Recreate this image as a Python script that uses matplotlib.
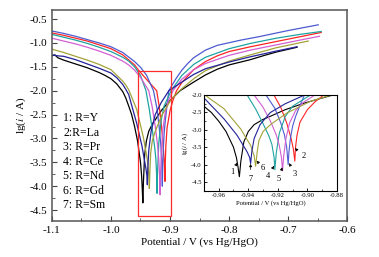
import matplotlib
matplotlib.use("Agg")
import matplotlib.pyplot as plt
from matplotlib.ticker import MultipleLocator
from matplotlib.patches import Rectangle

plt.rcParams['font.family'] = ['Liberation Serif', 'DejaVu Serif']
plt.rcParams['mathtext.fontset'] = 'stix'

# ---- data (E in V vs Hg/HgO, lg(i/A)) ----
E1 = [-1.100,-1.095,-1.090,-1.080,-1.070,-1.060,-1.050,-1.040,-1.030,-1.020,-1.010,-1.000,-0.990,-0.980,-0.975,-0.970,-0.965,-0.960,-0.955,-0.950,-0.948,-0.947,-0.946,-0.945,-0.943,-0.940,-0.936,-0.930,-0.925,-0.915,-0.902,-0.883,-0.860,-0.840,-0.820,-0.800,-0.764,-0.740,-0.720,-0.685]
L1 = [-1.27,-1.25,-1.31,-1.36,-1.40,-1.44,-1.48,-1.52,-1.57,-1.62,-1.68,-1.75,-1.86,-2.02,-2.15,-2.32,-2.50,-2.75,-3.05,-3.50,-3.80,-4.05,-4.35,-3.90,-3.35,-3.05,-2.85,-2.70,-2.61,-2.42,-2.23,-2.00,-1.82,-1.67,-1.55,-1.46,-1.35,-1.26,-1.19,-1.09]

E2 = [-1.100,-1.080,-1.060,-1.040,-1.020,-1.000,-0.980,-0.960,-0.954,-0.940,-0.9226,-0.918,-0.914,-0.911,-0.9095,-0.9085,-0.908,-0.907,-0.905,-0.900,-0.895,-0.889,-0.880,-0.860,-0.840,-0.820,-0.800,-0.764,-0.720,-0.680,-0.644]
L2 = [-0.79,-0.84,-0.90,-0.96,-1.04,-1.12,-1.25,-1.46,-1.56,-1.76,-2.00,-2.35,-2.80,-3.25,-3.55,-3.90,-3.50,-3.15,-2.78,-2.42,-2.20,-2.00,-1.83,-1.56,-1.39,-1.27,-1.18,-1.08,-0.97,-0.87,-0.78]

E3 = [-1.100,-1.080,-1.060,-1.040,-1.020,-1.000,-0.980,-0.960,-0.950,-0.940,-0.928,-0.922,-0.918,-0.9155,-0.914,-0.913,-0.9125,-0.9115,-0.910,-0.908,-0.905,-0.902,-0.890,-0.880,-0.870,-0.860,-0.840,-0.820,-0.780,-0.750,-0.700,-0.649]
L3 = [-0.75,-0.80,-0.86,-0.93,-1.00,-1.08,-1.20,-1.39,-1.51,-1.67,-2.00,-2.38,-2.80,-3.15,-3.50,-4.00,-3.65,-3.25,-2.90,-2.62,-2.30,-2.00,-1.75,-1.57,-1.43,-1.31,-1.15,-1.05,-0.94,-0.87,-0.74,-0.62]

E4 = [-1.100,-1.080,-1.060,-1.040,-1.020,-1.000,-0.980,-0.970,-0.960,-0.950,-0.9407,-0.935,-0.930,-0.926,-0.924,-0.9225,-0.922,-0.9215,-0.921,-0.919,-0.915,-0.910,-0.898,-0.880,-0.860,-0.840,-0.800,-0.764,-0.720,-0.680,-0.644]
L4 = [-0.82,-0.88,-0.94,-1.01,-1.09,-1.18,-1.30,-1.38,-1.50,-1.68,-2.00,-2.40,-2.82,-3.18,-3.42,-3.80,-4.15,-3.90,-3.65,-3.10,-2.62,-2.32,-2.00,-1.68,-1.45,-1.30,-1.12,-1.01,-0.90,-0.82,-0.76]

E5 = [-1.100,-1.080,-1.060,-1.040,-1.020,-1.000,-0.980,-0.970,-0.960,-0.950,-0.936,-0.930,-0.925,-0.921,-0.919,-0.9175,-0.9168,-0.916,-0.9145,-0.912,-0.908,-0.903,-0.895,-0.880,-0.860,-0.840,-0.800,-0.764,-0.720,-0.680,-0.647]
L5 = [-0.90,-0.96,-1.02,-1.09,-1.17,-1.26,-1.38,-1.46,-1.57,-1.72,-2.00,-2.35,-2.75,-3.15,-3.45,-3.80,-4.18,-3.75,-3.25,-2.80,-2.45,-2.22,-2.00,-1.76,-1.56,-1.43,-1.26,-1.15,-1.04,-0.94,-0.86]

E6 = [-1.100,-1.080,-1.060,-1.040,-1.020,-1.000,-0.990,-0.980,-0.975,-0.970,-0.9565,-0.9452,-0.9384,-0.936,-0.935,-0.934,-0.9328,-0.930,-0.925,-0.914,-0.898,-0.884,-0.860,-0.840,-0.800,-0.764,-0.720,-0.666]
L6 = [-1.13,-1.20,-1.28,-1.36,-1.45,-1.56,-1.68,-1.80,-1.88,-1.98,-2.39,-2.97,-3.45,-3.75,-4.05,-3.65,-3.31,-3.05,-2.85,-2.52,-2.18,-2.00,-1.75,-1.58,-1.38,-1.25,-1.10,-0.96]

E7 = [-1.100,-1.090,-1.080,-1.060,-1.040,-1.020,-1.000,-0.990,-0.980,-0.975,-0.970,-0.9565,-0.9475,-0.9407,-0.939,-0.9384,-0.9375,-0.936,-0.932,-0.925,-0.915,-0.902,-0.880,-0.860,-0.840,-0.800,-0.764,-0.720,-0.685]
L7 = [-1.25,-1.27,-1.28,-1.35,-1.44,-1.53,-1.63,-1.73,-1.87,-1.97,-2.08,-2.68,-3.16,-3.64,-3.80,-3.97,-3.60,-3.25,-2.85,-2.50,-2.25,-2.00,-1.82,-1.66,-1.54,-1.40,-1.29,-1.17,-1.08]

labels = ["1: R=Y", "2:R=La", "3: R=Pr", "4: R=Ce", "5: R=Nd", "6: R=Gd", "7: R=Sm"]
colors = ["#000000", "#ff2424", "#4d5bd0", "#1fa3a0", "#d35fd3", "#a3a33a", "#23239a"]
curves = [(E1, L1), (E2, L2), (E3, L3), (E4, L4), (E5, L5), (E6, L6), (E7, L7)]

# inset annotations: (label, text xy, arrow tip xy)
ann = [("1", (-0.9508, -4.20), (-0.9475, -3.95)),
       ("7", (-0.9384, -4.42), (-0.9384, -3.98)),
       ("6", (-0.9300, -4.10), (-0.9343, -3.89)),
       ("4", (-0.9266, -4.33), (-0.9226, -4.04)),
       ("5", (-0.9193, -4.42), (-0.9170, -4.08)),
       ("3", (-0.9084, -4.28), (-0.9123, -3.96)),
       ("2", (-0.9023, -3.75), (-0.9084, -3.53))]

zoom_box = (-0.954, -4.62, -0.898, -1.59)

fig = plt.figure(figsize=(3.79, 2.57), dpi=100)
ax = fig.add_axes([0.137, 0.140, 0.779, 0.821])
for (E, L), c in zip(curves, colors):
    ax.plot(E, L, color=c, lw=0.9)
ax.set_xlim(-1.1, -0.6)
ax.set_ylim(-4.73, -0.31)
ax.xaxis.set_major_locator(MultipleLocator(0.1))
ax.xaxis.set_minor_locator(MultipleLocator(0.05))
ax.yaxis.set_major_locator(MultipleLocator(0.5))
ax.yaxis.set_minor_locator(MultipleLocator(0.25))
ax.tick_params(which='both', direction='in', labelsize=8, color='#444444')
ax.tick_params(which='major', length=3.5, width=0.8)
ax.tick_params(which='minor', length=2, width=0.6)
ax.xaxis.set_major_formatter(matplotlib.ticker.FuncFormatter(lambda v, p: f"{v:.1f}"))
ax.yaxis.set_major_formatter(matplotlib.ticker.FuncFormatter(lambda v, p: f"{v:.1f}"))
for s in ax.spines.values():
    s.set_color('#555555'); s.set_linewidth(1.1)
ax.set_xlabel("Potential / V (vs Hg/HgO)", fontsize=8, labelpad=2)
ax.set_ylabel(r"lg($\mathit{i}$ / A)", fontsize=8, labelpad=1)
ax.add_patch(Rectangle((zoom_box[0], zoom_box[1]), zoom_box[2]-zoom_box[0],
                       zoom_box[3]-zoom_box[1], fill=False, ec='#ff2a2a', lw=0.9, zorder=5))
ys = [118, 133, 147, 162, 176, 191, 205]
for lab, yp in zip(labels, ys):
    ax.text(63/379, 1 - yp/257, lab, transform=fig.transFigure, fontsize=8.5,
            va='center', ha='left')

ins = fig.add_axes([0.538, 0.257, 0.351, 0.373])
for (E, L), c in zip(curves, colors):
    ins.plot(E, L, color=c, lw=0.8)
ins.set_xlim(-0.97, -0.88)
ins.set_ylim(-4.76, -2.0)
ins.xaxis.set_major_locator(MultipleLocator(0.02))
ins.xaxis.set_minor_locator(MultipleLocator(0.01))
ins.yaxis.set_major_locator(MultipleLocator(0.5))
ins.yaxis.set_minor_locator(MultipleLocator(0.25))
ins.tick_params(which='both', direction='in', labelsize=4.8, pad=1.5)
ins.tick_params(which='major', length=2.2, width=0.6)
ins.tick_params(which='minor', length=1.2, width=0.5)
ins.xaxis.set_major_formatter(matplotlib.ticker.FuncFormatter(lambda v, p: f"{v:.2f}"))
ins.yaxis.set_major_formatter(matplotlib.ticker.FuncFormatter(lambda v, p: f"{v:.1f}"))
for s in ins.spines.values():
    s.set_linewidth(0.8)
ins.set_xlabel("Potential / V (vs Hg/HgO)", fontsize=4.8, labelpad=1.5)
ins.set_ylabel(r"lg($\mathit{i}$ / A)", fontsize=4.8, labelpad=1)
for lab, txy, tip in ann:
    ins.annotate(lab, xy=tip, xytext=txy, fontsize=6, ha='center', va='center',
                 arrowprops=dict(arrowstyle='-|>', lw=0.5, color='black',
                                 mutation_scale=4, shrinkA=2, shrinkB=0))

fig.savefig("out.png", dpi=100)
